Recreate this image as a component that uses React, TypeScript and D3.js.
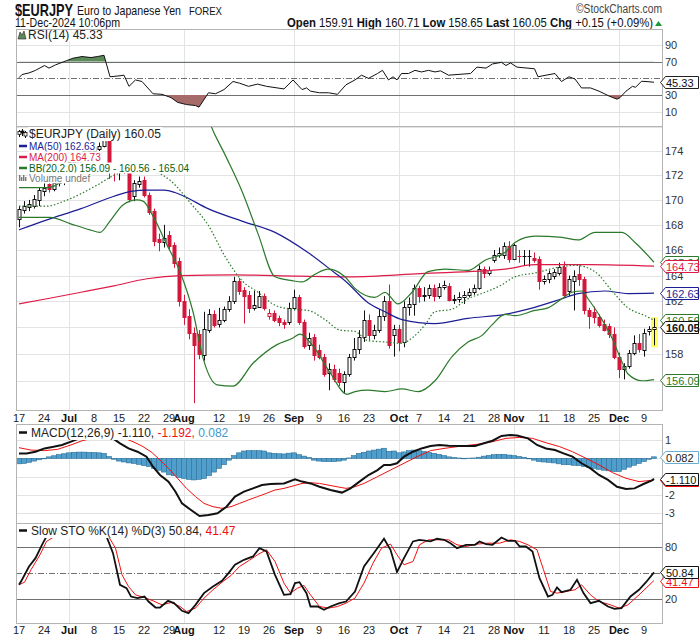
import React, { useEffect, useRef } from 'react';
import * as d3 from 'd3';

// ---- price bars, one per trading day, 17-Jun-2024 .. 11-Dec-2024 (index 0..127)
const opens = [168.5,169.2,169.4,169.5,170.0,170.7,171.3,170.9,171.4,171.6,
  172.0,173.1,172.8,173.6,174.0,174.0,174.2,174.4,174.9,172.6,
  172.3,172.6,172.3,170.3,171.3,171.6,170.4,169.1,166.9,166.6,
  167.2,166.4,165.1,162.0,160.9,159.6,159.5,157.9,159.8,161.0,
  160.3,160.6,161.4,162.0,163.6,162.9,162.5,161.5,161.6,162.4,
  160.9,161.1,160.7,160.45,160.4,161.5,162.3,160.4,158.7,159.3,
  158.3,157.8,156.6,156.9,156.6,155.9,156.5,157.8,158.4,159.3,
  160.6,159.4,159.8,160.9,162.0,159.4,159.9,158.9,161.6,161.8,
  163.0,162.4,162.5,163.0,162.4,163.1,163.2,162.1,162.2,162.35,
  162.5,162.75,163.0,164.5,164.2,165.2,165.6,165.6,166.3,165.3,
  165.5,165.5,165.5,165.4,165.3,163.6,163.7,164.0,164.2,164.7,
  162.8,163.6,164.1,163.7,161.3,161.2,160.8,160.3,160.1,159.5,
  157.8,156.9,157.1,158.1,158.8,158.3,159.7,159.91];
const highs = [169.5,169.9,170.0,170.4,171.0,171.4,171.5,171.6,171.9,172.4,
  173.4,173.5,173.9,174.3,174.4,174.5,174.7,175.1,175.4,173.0,
  172.8,172.9,172.6,171.6,171.9,171.9,170.6,169.3,167.3,168.0,
  167.5,166.6,165.4,162.5,161.4,160.0,159.8,161.2,161.4,161.3,
  161.5,161.6,162.4,163.9,163.8,163.1,162.8,162.8,162.8,162.6,
  161.4,161.3,160.9,160.6,161.9,162.9,162.5,160.6,159.6,159.5,
  158.7,158.0,157.3,157.2,156.9,156.7,158.0,159.2,159.8,161.3,
  161.0,160.2,161.4,162.4,163.3,160.2,160.2,162.0,162.3,163.3,
  163.2,163.1,163.3,163.3,163.4,163.6,163.4,162.5,162.7,162.8,
  163.0,163.3,164.8,164.7,164.7,166.0,166.2,166.6,166.7,166.5,
  166.0,166.0,166.0,165.8,165.5,164.0,164.4,164.5,165.0,165.1,
  164.0,164.4,164.8,163.9,161.5,161.6,161.0,160.6,160.3,160.0,
  158.1,157.3,158.3,159.4,159.5,159.9,160.1,160.71];
const lows = [167.8,168.9,169.1,169.3,169.5,170.3,170.6,170.7,171.1,171.2,
  171.9,172.5,172.7,173.4,173.6,173.7,174.0,174.3,171.7,171.5,
  171.6,172.1,169.8,169.9,171.0,170.2,168.8,166.3,165.9,166.2,
  166.0,164.6,161.6,160.2,159.1,154.35,157.6,157.5,159.6,160.0,
  160.0,160.4,161.2,161.8,162.5,160.3,161.1,161.3,161.5,161.3,
  160.6,160.4,160.1,159.9,160.2,161.3,160.2,158.4,158.3,157.5,
  157.6,156.3,155.3,155.9,155.6,155.05,156.3,157.5,158.0,158.9,
  159.0,159.1,159.6,160.5,158.4,157.8,158.2,158.5,160.9,160.9,
  161.9,162.0,162.2,162.0,162.2,162.9,162.0,161.8,161.9,161.8,
  162.3,162.5,162.9,163.8,164.0,165.0,165.4,165.3,165.0,165.2,
  165.0,164.8,164.7,165.0,162.9,163.3,163.4,163.7,164.0,162.3,
  162.4,161.3,163.2,161.0,159.9,160.3,160.0,159.7,159.2,157.6,
  156.2,156.1,156.9,157.9,158.1,157.8,159.4,158.65];
const closes = [169.3,169.5,169.7,170.1,170.8,171.0,170.9,171.4,171.6,172.0,
  173.1,172.8,173.6,174.0,174.1,174.3,174.4,174.9,172.6,172.3,
  172.6,172.3,170.1,171.4,171.5,170.4,169.0,166.7,166.6,166.95,
  166.3,165.0,162.0,160.8,159.6,158.7,158.0,159.9,161.0,160.2,
  160.6,161.4,162.0,163.6,162.8,162.4,161.5,161.7,162.4,161.5,
  161.1,160.6,160.4,160.3,161.5,162.3,160.4,158.6,159.2,157.9,
  157.8,156.5,156.9,156.1,155.9,156.5,157.8,158.4,159.3,160.6,
  159.4,159.8,160.9,162.0,158.7,159.9,158.9,161.6,161.8,163.0,
  162.4,162.5,163.0,162.4,163.1,163.3,162.1,162.2,162.35,162.5,
  162.75,163.0,164.5,164.2,164.4,165.6,165.8,166.3,165.3,166.4,
  165.5,165.5,165.5,165.2,163.6,163.7,164.2,164.3,164.7,162.5,
  163.7,164.0,163.7,161.3,160.9,160.8,160.2,159.8,159.5,157.8,
  156.9,157.1,158.1,158.8,158.4,159.6,159.9,160.05];

// ---- overlays: [bar index, value]
const ma200Pts: [number, number][] = [[0,161.8],[5.6,162.2],[12.4,162.7],[19,163.2],[25.6,163.75],[32.4,164.0],[42.8,164.05],[56.2,163.95],[66.2,163.9],[80.2,164.15],[97.2,164.5],[103.2,164.85],[114.2,164.85],[127,164.73]];
const ma50Pts: [number, number][] = [[0,167.6],[5.6,168.4],[12.4,169.3],[19,170.3],[22.4,170.7],[25.6,170.8],[29,170.8],[31.2,170.6],[33,170.3],[37.8,169.3],[44.6,168.3],[51.2,167.4],[57.8,165.8],[63.2,164.2],[65.2,163.6],[69.8,161.9],[73.2,161.2],[76.6,160.6],[83.2,160.3],[89.8,160.7],[97.2,161.0],[101.8,161.4],[108.6,162.2],[111.8,162.6],[117.2,162.8],[121.8,162.6],[127,162.63]];
const bbUpperPts: [number, number][] = [[0,171.0],[5.6,171.0],[9,171.7],[12.4,173.8],[15.6,175.4],[17,176.0],[19,176.2],[22,176.3],[26,176.0],[27,176.05],[30,177.2],[33,178.6],[35,179.2],[37,177.8],[38.2,176.3],[41.2,173.7],[44.6,170.7],[47.8,167.3],[51.2,163.9],[54.6,163.6],[56.6,163.5],[59.2,164.1],[61.8,164.5],[63.2,164.4],[65.2,163.9],[67.2,163.0],[71.2,162.3],[73.2,162.7],[75.8,161.8],[78.6,162.7],[81.8,164.3],[85.2,164.5],[89.8,164.4],[93.2,165.2],[97.2,165.8],[99.2,166.6],[103.2,167.1],[108.6,167.0],[111.8,166.8],[115.2,167.4],[120.6,167.4],[123.2,166.6],[127,165.04]];
const bbMidPts: [number, number][] = [[0,169.5],[5.6,169.5],[9,169.9],[15.6,171.2],[19,172.0],[24.2,172.5],[27.2,172.3],[30.2,171.6],[32.6,170.6],[34.2,169.8],[37.8,168.0],[41.2,165.5],[44.6,163.6],[47.8,162.7],[51.2,161.7],[54.6,161.4],[57.8,161.3],[61.2,160.6],[64.2,159.8],[67.2,159.7],[69.8,159.0],[73.2,158.9],[76.6,158.8],[78.6,159.2],[81.2,160.2],[83.2,161.2],[86.6,161.4],[89.8,162.2],[93.2,162.7],[96.2,163.2],[99.2,163.9],[103.2,164.2],[108.6,164.7],[111.2,164.8],[115.2,164.3],[118.6,162.8],[121.8,161.5],[125.2,160.9],[127,160.56]];
const bbLowerPts: [number, number][] = [[0,168.6],[6.2,168.6],[10.2,168.1],[14.2,167.6],[16.2,167.4],[18.2,168.3],[20.8,169.6],[23.6,170.0],[24.8,169.9],[26.8,168.7],[29.6,166.4],[32.2,164.3],[34.8,161.2],[36.8,157.7],[39.6,155.7],[42.8,155.6],[46.8,157.3],[51.6,158.7],[54.8,159.2],[56.2,159.5],[58.8,158.6],[62.2,156.6],[65.6,155.0],[67.2,155.2],[69.8,155.3],[73.2,155.2],[76.6,155.4],[79.8,155.2],[83.2,156.0],[86.6,157.8],[89.8,158.9],[92.6,159.4],[94.6,160.2],[97.2,161.0],[99.2,160.9],[103.2,161.3],[105.8,161.5],[108.6,162.2],[110.6,162.7],[112.6,162.8],[113.8,162.2],[116.6,160.6],[118.6,159.2],[120.6,157.4],[121.8,156.5],[124.6,156.0],[127,156.09]];

// ---- indicators: [bar index, value]
const rsiPts: [number, number][] = [[0,50.8],[0.6,54.6],[2,56.5],[3.3,59.6],[5.1,65.4],[6,62.3],[7.3,66.2],[9.5,71.2],[10.8,74.2],[12.6,76.2],[14.4,75],[15.7,76.2],[17,77.7],[18.2,51.9],[20.2,53.1],[21,53.8],[22,40.4],[23.3,48.1],[24.6,46.2],[26.8,31.5],[28.6,30.8],[30.4,26.9],[31.7,21.2],[33.5,18.5],[35.3,17.3],[36,15.4],[37.9,32.7],[39.3,31.5],[41,36.5],[42.8,46.2],[44.1,44.2],[45.9,40.4],[47.7,43.1],[49.5,40.4],[53,37.3],[54.8,48.1],[56.6,36.5],[57.5,38.5],[58.3,34.6],[60.1,32.7],[61.9,32.7],[63.7,30.8],[65.4,42.3],[67.2,48.1],[68.5,53.8],[69.9,50],[71.7,55.8],[72.7,59.6],[73.9,48.1],[74.8,51.9],[75.6,48.1],[76.5,55.8],[77.9,55.8],[79.2,59.6],[80.5,57.7],[81.9,59.6],[83.2,57.7],[84.3,59],[85.9,53.8],[87.6,54.6],[90.3,55.8],[91.6,63.5],[93.4,62.3],[94.7,67.3],[96.5,69.2],[97.4,65.4],[98.3,68.5],[99.6,63.5],[103.1,61.5],[103.8,51.9],[105.4,53.8],[107.2,55.8],[108.5,46.2],[110,51.9],[111.2,49.2],[112.5,38.5],[114.3,38.5],[116,34.6],[118,28.8],[119.6,25],[120.2,26.9],[121.4,34.6],[122.7,40.4],[123.3,39.2],[124.5,46.5],[125.8,46],[127,45.33]];
const macdPts: [number, number][] = [[0,0.27],[1.5,0.27],[3.3,0.36],[5.1,0.54],[6.9,0.63],[8.6,0.73],[10.4,0.91],[11.7,1.05],[13.5,1.25],[15.5,1.35],[17.3,1.36],[18.8,1.09],[20.2,0.82],[21.9,0.54],[23.7,0.36],[25.5,0.09],[26.8,-0.46],[28.2,-0.91],[29.9,-1.27],[31.3,-1.82],[32.6,-2.46],[34.4,-2.82],[36.1,-3.15],[37.9,-3.09],[39.7,-3.0],[41.5,-2.64],[43.2,-2.09],[45,-1.82],[46.8,-1.64],[48.6,-1.46],[50.3,-1.40],[53,-1.37],[55.2,-1.15],[56.6,-1.27],[58.3,-1.37],[60.1,-1.55],[62.3,-1.73],[64.6,-1.87],[66.3,-1.64],[68.1,-1.27],[69.9,-0.91],[71.7,-0.64],[73,-0.36],[74.3,-0.36],[75.6,-0.27],[77,0.09],[78.8,0.36],[80.5,0.54],[82.3,0.67],[84.1,0.73],[85.9,0.69],[88.5,0.67],[91.2,0.67],[93,0.82],[94.7,0.96],[96.5,1.22],[98.3,1.27],[99.6,1.24],[101.8,1.09],[103.6,0.73],[105.4,0.54],[107.2,0.45],[108.9,0.27],[110.7,0.09],[112.5,-0.27],[114.3,-0.55],[116,-0.91],[117.8,-1.18],[119.6,-1.55],[121.4,-1.67],[123.1,-1.64],[124.9,-1.40],[126.5,-1.22],[127,-1.11]];
const signalPts: [number, number][] = [[0,0.58],[2.4,0.45],[5.1,0.42],[7.7,0.49],[10.4,0.73],[12.6,0.96],[14.8,1.09],[17.5,1.18],[19.3,1.22],[21.1,1.09],[22.8,0.91],[24.6,0.67],[26.4,0.36],[28.2,-0.09],[29.9,-0.55],[31.7,-1.09],[33.5,-1.64],[35.3,-2.09],[37,-2.46],[38.8,-2.64],[40.6,-2.73],[42.4,-2.64],[44.1,-2.46],[45.9,-2.27],[47.7,-2.09],[49.5,-1.91],[51.2,-1.73],[53,-1.64],[54.8,-1.51],[56.6,-1.37],[58.3,-1.33],[60.1,-1.37],[62.8,-1.51],[65.4,-1.64],[67.2,-1.55],[69,-1.37],[71.7,-1.0],[74.3,-0.64],[77,-0.27],[79.6,0.09],[82.3,0.42],[85,0.54],[88.5,0.67],[92.1,0.78],[94.7,0.91],[97.4,1.09],[100.1,1.14],[102.7,1.09],[105.4,0.85],[108.1,0.64],[110.7,0.36],[113.4,0.0],[116,-0.36],[118.7,-0.78],[121.4,-1.09],[124,-1.27],[126.5,-1.2],[127,-1.192]];
const macdHist = [-0.30,-0.28,-0.22,-0.15,-0.08,0.0,0.08,0.14,0.2,0.25,0.3,0.33,
  0.34,0.34,0.33,0.32,0.3,0.27,0.1,-0.05,-0.15,-0.2,-0.25,-0.28,-0.33,-0.4,-0.45,-0.55,
  -0.65,-0.75,-0.9,-0.95,-1.05,-1.1,-1.15,-1.18,-1.15,-1.1,-0.95,-0.75,-0.55,-0.35,-0.1,0.15,
  0.3,0.4,0.42,0.42,0.42,0.4,0.3,0.27,0.25,0.24,0.28,0.3,0.2,0.12,
  0.05,-0.1,-0.15,-0.18,-0.18,-0.18,-0.15,-0.1,0.02,0.15,0.27,0.33,0.4,0.45,0.5,0.55,0.38,0.4,0.3,
  0.35,0.42,0.45,0.42,0.38,0.32,0.27,0.22,0.15,0.08,0.05,0.02,0.0,0.01,0.02,0.06,0.12,0.16,0.2,
  0.22,0.22,0.18,0.15,0.1,0.06,0.0,-0.1,-0.18,-0.2,-0.22,-0.25,-0.3,-0.35,-0.35,-0.38,-0.4,
  -0.45,-0.5,-0.55,-0.6,-0.65,-0.68,-0.72,-0.72,-0.6,-0.48,-0.38,-0.28,-0.18,-0.05,0.082];
const stoKPts: [number, number][] = [[0,36.5],[0.6,42.3],[2,57.7],[3.3,67.4],[4.6,82.9],[5.5,92.6],[6.9,92.6],[8.2,92.6],[10,97],[13,98],[16,97],[17.5,92.6],[18.8,73.2],[20.2,36.5],[21.5,32.6],[22.4,22.9],[23.7,21],[25.1,22.9],[25.9,17.1],[27.3,10.1],[28.2,10.1],[29.8,17.9],[31,15.2],[32.6,6.3],[33.9,3.6],[35.3,13.2],[37,26.8],[38.8,34.5],[40.6,41.1],[41.9,50],[43.2,59.7],[45,65.5],[46.8,69.4],[48.1,79],[49.5,75.2],[51.2,48.1],[53,24.8],[54.3,25.6],[55.2,38.4],[56.1,39.5],[57.5,26.8],[58.3,11.3],[59.7,11.3],[61,7.4],[62.3,11.3],[64.1,15.2],[65.4,17.1],[67.2,28.7],[69,57.7],[71.2,75.2],[73,89.9],[74.3,77.1],[75.6,51.2],[77,67.4],[78.8,86.8],[80.1,88.7],[82.3,86.8],[83.6,89.9],[85,88.7],[86.3,84.8],[87.6,79],[89.4,82.9],[91.2,82.9],[92.1,86.8],[93.4,83.7],[94.7,82.9],[96.5,91.4],[97.8,87.5],[99.2,87.5],[100.1,81],[101.4,81],[102.7,75.2],[104.1,44.2],[105.8,22.9],[106.7,24.8],[107.6,33.4],[108.5,27.9],[110.3,30.7],[111.6,42.3],[112.9,26.8],[114.3,15.2],[116,17.9],[117.8,11.3],[119.1,8.6],[120.5,9.4],[122.3,22.9],[124,30.7],[125.4,39.5],[127,50.84]];
const stoDPts: [number, number][] = [[0,36.5],[1.1,39.5],[2.4,53.9],[4.2,71.3],[5.5,86.8],[6.9,91.8],[8.2,92.5],[11,97],[14,98],[17.9,92.6],[19.3,79],[20.6,48.1],[21.9,34.5],[23.3,24.8],[25.1,21.7],[26.8,17.9],[28.6,13.2],[30.4,15.9],[32.2,11.3],[33.5,5.5],[35.3,9.4],[37,21],[38.8,30.7],[40.6,39.5],[42.4,47.3],[44.1,57.7],[45.9,64.3],[47.7,71.3],[49.5,77.1],[51.2,63.5],[53,38.4],[54.3,26.8],[55.7,32.6],[57,35.7],[58.3,24.8],[60.1,11.3],[61.9,9.4],[63.7,11.3],[65.4,15.2],[67.2,21],[69,38.4],[70.8,61.6],[72.5,79],[74.3,83.7],[75.6,71.3],[77,59.7],[78.8,63.5],[80.1,82.9],[81.9,88.7],[84.1,88.7],[85.9,88.7],[87.6,82.9],[89.4,81],[91.6,83.7],[93.8,84.8],[96.1,84.8],[98.3,88.7],[100.1,86.8],[101.8,82.9],[103.6,77.1],[104.9,53.9],[106.3,28.7],[107.6,26.8],[109.4,28.7],[111.2,30.7],[112.5,36.5],[114.3,24.8],[116,17.1],[118.3,13.2],[120,9.4],[121.8,13.2],[124,24.8],[127,41.47]];

// ---- axis ticks (labels covered by value tags in the original are left out)
const weekTickIdx = [0,5,15,20,25,30,40,45,50,60,65,70,80,85,90,95,105,110,115,125];
const weekTickText = ['17','24','8','15','22','29','12','19','26','9','16','23','7','14','21','28','11','18','25','9'];
const monthTickIdx = [10,33,55,76,99,120];
const monthTickText = ['Jul','Aug','Sep','Oct','Nov','Dec'];
const priceTicks = [158,162,164,166,168,170,172,174];
const priceGrid = [156,158,160,162,164,166,168,170,172,174,176];
const rsiTicks = [10,30,70,90];
const rsiGrid = [10,90];
const macdTicks = [1,-2,-3];
const macdGrid = [1,0,-1,-2,-3];
const stoTicks = [20,80];

const FONT = 'Liberation Sans, Arial, sans-serif';
const GREEN = '#2b7a2b';
const NAVY = '#1d1d96';
const CRIMSON = '#dc1c48';
const CRED = '#d3173c';
const L = 16, R = 662;

const App: React.FC = () => {
  const svgRef = useRef<SVGSVGElement>(null);

  useEffect(() => {
    if (!svgRef.current) return;
    const svg = d3.select(svgRef.current);
    svg.selectAll('*').remove();
    const defs = svg.append('defs');
    svg.append('rect').attr('width', 700).attr('height', 639).attr('fill', '#fff');

    const x = d3.scaleLinear().domain([0, 127]).range([19, 654]);
    const yP = d3.scaleLog().domain([174, 154]).range([151, 407.9]);
    const yR = d3.scaleLinear().domain([70, 30]).range([61.7, 95]);
    const yM = d3.scaleLinear().domain([1, -3]).range([440, 513.3]);
    const yS = d3.scaleLinear().domain([80, 20]).range([547.3, 599]);
    const px = (v: number) => Math.round(v) + 0.5;

    const panel = (top: number, bottom: number, id: string) => {
      defs.append('clipPath').attr('id', id).append('rect')
        .attr('x', L).attr('y', top).attr('width', R - L).attr('height', bottom - top);
      const g = svg.append('g');
      monthTickIdx.forEach(i => {
        g.append('line').attr('x1', px(x(i))).attr('x2', px(x(i))).attr('y1', top).attr('y2', bottom)
          .attr('stroke', '#e3e3e3');
      });
      return g;
    };
    const hline = (g: any, y: number, stroke: string, dash?: string) => {
      const l = g.append('line').attr('x1', L).attr('x2', R).attr('y1', px(y)).attr('y2', px(y)).attr('stroke', stroke);
      if (dash) l.attr('stroke-dasharray', dash);
    };
    const border = (top: number, bottom: number) => {
      svg.append('rect').attr('x', L + 0.5).attr('y', top + 0.5).attr('width', R - L).attr('height', bottom - top)
        .attr('fill', 'none').attr('stroke', '#b4b4b4');
    };
    const axisText = (y: number, t: string) => {
      svg.append('text').attr('x', 665).attr('y', y + 4).text(t)
        .attr('font-family', FONT).attr('font-size', 11).attr('fill', '#333');
    };
    const tag = (y: number, t: string, stroke: string, color: string, bold = false) => {
      const yy = px(y);
      svg.append('path')
        .attr('d', `M660.5,${yy} L665.5,${yy - 6} L698.5,${yy - 6} L698.5,${yy + 6} L665.5,${yy + 6} Z`)
        .attr('fill', '#fff').attr('stroke', stroke);
      svg.append('text').attr('x', 666).attr('y', yy + 4).text(t)
        .attr('font-family', FONT).attr('font-size', 11).attr('fill', color)
        .attr('font-weight', bold ? 'bold' : 'normal');
    };
    const legend = (g: any, xx: number, y: number, size: number, parts: [string, string][]) => {
      const t = g.append('text').attr('x', xx).attr('y', y).attr('font-family', FONT).attr('font-size', size);
      parts.forEach(([s, c]) => t.append('tspan').text(s).attr('fill', c));
      const bb = (t.node() as SVGTextElement).getBBox();
      g.insert('rect', () => t.node()).attr('x', bb.x - 1).attr('y', bb.y).attr('width', bb.width + 2)
        .attr('height', bb.height).attr('fill', '#fff');
    };
    const xLabels = (y: number) => {
      weekTickIdx.forEach((i, k) => {
        svg.append('text').attr('x', x(i)).attr('y', y).attr('text-anchor', 'middle').text(weekTickText[k])
          .attr('font-family', FONT).attr('font-size', 11).attr('fill', '#222');
      });
      monthTickIdx.forEach((i, k) => {
        svg.append('text').attr('x', x(i)).attr('y', y).attr('text-anchor', 'middle').text(monthTickText[k])
          .attr('font-family', FONT).attr('font-size', 11).attr('font-weight', 'bold').attr('fill', '#111');
      });
    };
    // condensed header text: squeeze to the width it has in the original
    const narrow = (xx: number, y: number, w: number, size: number, anchor = 'start') =>
      svg.append('text').attr('x', xx).attr('y', y).attr('text-anchor', anchor)
        .attr('font-family', FONT).attr('font-size', size)
        .attr('textLength', w).attr('lengthAdjust', 'spacingAndGlyphs');
    const smooth = (ys: any) => d3.line<[number, number]>().x(d => x(d[0])).y(d => ys(d[1])).curve(d3.curveMonotoneX);
    const straight = (ys: any) => d3.line<[number, number]>().x(d => x(d[0])).y(d => ys(d[1]));

    // ---------- header
    narrow(15, 16, 58, 17).text('$EURJPY').attr('font-weight', 'bold').attr('fill', '#111');
    narrow(77, 15, 104, 13).text('Euro to Japanese Yen').attr('fill', '#111');
    narrow(189, 15, 33, 11).text('FOREX').attr('fill', '#111');
    narrow(662, 13, 86, 12, 'end').text('©StockCharts.com').attr('fill', '#444');
    narrow(15, 27, 105, 12.5).text('11-Dec-2024 10:06pm').attr('fill', '#111');
    const info = narrow(653, 27, 366, 12.5, 'end').attr('fill', '#111');
    ([['Open', '159.91'], ['High', '160.71'], ['Low', '158.65'], ['Last', '160.05'], ['Chg', '+0.15 (+0.09%)']] as [string, string][])
      .forEach(([k, v], n) => {
        info.append('tspan').text((n ? ' ' : '') + k + ' ').attr('font-weight', 'bold');
        info.append('tspan').text(v);
      });
    svg.append('path').attr('d', 'M655,26 L658.5,21 L662,26 Z').attr('fill', '#1e9a2e');

    // ---------- RSI panel
    const rTop = 29, rBot = 126;
    const gR = panel(rTop, rBot, 'clipR');
    rsiGrid.forEach(v => hline(gR, yR(v), '#e3e3e3'));
    hline(gR, yR(70), '#707070');
    hline(gR, yR(30), '#707070');
    hline(gR, yR(50), '#707070', '6,2,1,2');
    defs.append('clipPath').attr('id', 'clipR70').append('rect').attr('x', L).attr('y', rTop).attr('width', R - L).attr('height', yR(70) - rTop);
    defs.append('clipPath').attr('id', 'clipR30').append('rect').attr('x', L).attr('y', yR(30)).attr('width', R - L).attr('height', rBot - yR(30));
    gR.append('path').datum(rsiPts).attr('clip-path', 'url(#clipR70)').attr('fill', '#5d8a5a')
      .attr('d', d3.area<[number, number]>().x(d => x(d[0])).y0(yR(70)).y1(d => yR(d[1])));
    gR.append('path').datum(rsiPts).attr('clip-path', 'url(#clipR30)').attr('fill', '#a66a69')
      .attr('d', d3.area<[number, number]>().x(d => x(d[0])).y0(yR(30)).y1(d => yR(d[1])));
    gR.append('path').datum(rsiPts).attr('clip-path', 'url(#clipR)').attr('fill', 'none')
      .attr('stroke', '#111').attr('stroke-width', 1).attr('d', straight(yR));
    gR.append('path').attr('d', 'M18,39 L20,32 L22,35 L24,31 L26,39 Z').attr('fill', '#5d8a5a').attr('stroke', '#222').attr('stroke-width', 0.6);
    legend(gR, 28, 38.5, 12, [['RSI(14) 45.33', '#222']]);
    border(rTop, rBot);
    rsiTicks.forEach(v => axisText(yR(v), String(v)));
    tag(yR(45.33), '45.33', '#222', '#111');

    // ---------- price panel
    const pTop = 126, pBot = 410;
    const gP = panel(pTop, pBot, 'clipP');
    priceGrid.forEach(v => hline(gP, yP(v), '#e3e3e3'));
    const gPc = gP.append('g').attr('clip-path', 'url(#clipP)');
    // highlight last bar
    gPc.append('rect').attr('x', x(127) - 3).attr('y', yP(highs[127]) - 1).attr('width', 7)
      .attr('height', yP(lows[127]) - yP(highs[127]) + 3).attr('fill', '#ffff5e');
    closes.forEach((c, i) => {
      const o = opens[i];
      const prev = i > 0 ? closes[i - 1] : o;
      const col = c >= prev ? '#111' : CRED;
      const hollow = c > o;
      const cx = Math.round(x(i));
      gPc.append('line').attr('x1', cx + 0.5).attr('x2', cx + 0.5).attr('y1', yP(highs[i])).attr('y2', yP(lows[i]))
        .attr('stroke', col).attr('stroke-width', 1);
      const top = Math.round(yP(Math.max(o, c)));
      const bot = Math.round(yP(Math.min(o, c)));
      if (bot - top < 1) {
        gPc.append('line').attr('x1', cx - 1.5).attr('x2', cx + 2.5).attr('y1', top + 0.5).attr('y2', top + 0.5)
          .attr('stroke', col);
      } else {
        gPc.append('rect').attr('x', cx - 1).attr('y', top + 0.5).attr('width', 3).attr('height', bot - top)
          .attr('fill', hollow ? '#fff' : col).attr('stroke', col).attr('stroke-width', 1);
      }
    });
    gPc.append('path').datum(ma200Pts).attr('fill', 'none').attr('stroke', CRIMSON).attr('stroke-width', 1.2).attr('d', smooth(yP));
    gPc.append('path').datum(ma50Pts).attr('fill', 'none').attr('stroke', NAVY).attr('stroke-width', 1.2).attr('d', smooth(yP));
    gPc.append('path').datum(bbUpperPts).attr('fill', 'none').attr('stroke', GREEN).attr('stroke-width', 1.2).attr('d', smooth(yP));
    gPc.append('path').datum(bbLowerPts).attr('fill', 'none').attr('stroke', GREEN).attr('stroke-width', 1.2).attr('d', smooth(yP));
    gPc.append('path').datum(bbMidPts).attr('fill', 'none').attr('stroke', GREEN).attr('stroke-width', 1.2)
      .attr('stroke-dasharray', '1.5,2').attr('d', smooth(yP));
    // legend
    const gL = gP.append('g');
    legend(gL, 29, 138, 12, [['$EURJPY (Daily) 160.05', '#222']]);
    legend(gL, 29, 149.5, 10, [['MA(50) 162.63', NAVY]]);
    legend(gL, 29, 160.5, 10, [['MA(200) 164.73', CRIMSON]]);
    legend(gL, 29, 171.5, 10, [['BB(20,2.0) 156.09 - 160.56 - 165.04', '#0b610b']]);
    legend(gL, 29, 181.5, 10, [['Volume undef', '#777']]);
    [[19.5, 130, 137, 131.5, 134.5, '#fff'], [22.5, 129, 136, 131, 133, '#111'], [25.5, 131, 138, 132.5, 136, '#fff']]
      .forEach(([cx, hi, lo, bt, bb, f]: any) => {
        gL.append('line').attr('x1', cx).attr('x2', cx).attr('y1', hi).attr('y2', lo).attr('stroke', '#111');
        gL.append('rect').attr('x', cx - 1.5).attr('y', bt).attr('width', 3).attr('height', bb - bt).attr('fill', f).attr('stroke', '#111').attr('stroke-width', 0.8);
      });
    [[NAVY, 146], [CRIMSON, 157], [GREEN, 168]].forEach(([c, y]: any) => {
      gL.append('line').attr('x1', 19).attr('x2', 27).attr('y1', y).attr('y2', y).attr('stroke', c).attr('stroke-width', 2.5);
    });
    [19, 21, 23, 25].forEach((bx, k) => {
      gL.append('rect').attr('x', bx).attr('y', 175 + (k % 2) * 2).attr('width', 1.4).attr('height', 6 - (k % 2) * 2).attr('fill', '#777');
    });
    border(pTop, pBot);
    priceTicks.forEach(v => axisText(yP(v), String(v)));
    tag(yP(165.04), '165.04', GREEN, GREEN);
    tag(yP(164.73), '164.73', CRIMSON, CRIMSON);
    tag(yP(162.63), '162.63', NAVY, NAVY);
    tag(yP(160.56), '160.56', GREEN, GREEN);
    tag(yP(160.05), '160.05', '#111', '#111', true);
    tag(yP(156.09), '156.09', GREEN, GREEN);
    xLabels(422);

    // ---------- MACD panel
    const mTop = 424, mBot = 523;
    const gM = panel(mTop, mBot, 'clipM');
    macdGrid.forEach(v => hline(gM, yM(v), '#e3e3e3'));
    const gMc = gM.append('g').attr('clip-path', 'url(#clipM)');
    macdHist.forEach((h, i) => {
      const y0 = yM(0), y1 = yM(h);
      gMc.append('rect').attr('x', x(i) - 2.5).attr('width', 5)
        .attr('y', Math.min(y0, y1)).attr('height', Math.max(0.5, Math.abs(y1 - y0)))
        .attr('fill', '#4f9ecb').attr('stroke', '#2c6f98').attr('stroke-width', 0.6);
    });
    gMc.append('path').datum(signalPts).attr('fill', 'none').attr('stroke', '#f01010').attr('stroke-width', 1).attr('d', straight(yM));
    gMc.append('path').datum(macdPts).attr('fill', 'none').attr('stroke', '#111').attr('stroke-width', 2).attr('d', straight(yM));
    gM.append('line').attr('x1', 19).attr('x2', 27).attr('y1', 432.5).attr('y2', 432.5).attr('stroke', '#111').attr('stroke-width', 2.5);
    legend(gM, 31, 437, 12, [['MACD(12,26,9) -1.110, ', '#222'], ['-1.192, ', '#f01010'], ['0.082', '#3d97cc']]);
    border(mTop, mBot);
    macdTicks.forEach(v => axisText(yM(v), String(v)));
    tag(yM(0.082), '0.082', '#6aaed6', '#222');
    tag(yM(-1.192), '-1.192', '#f01010', '#f01010');
    tag(yM(-1.11), '-1.110', '#111', '#111');

    // ---------- Slow stochastic panel
    const sTop = 523, sBot = 623;
    const gS = panel(sTop, sBot, 'clipS');
    hline(gS, yS(80), '#707070');
    hline(gS, yS(20), '#707070');
    hline(gS, yS(50), '#707070', '6,2,1,2');
    const gSc = gS.append('g').attr('clip-path', 'url(#clipS)');
    gSc.append('path').datum(stoDPts).attr('fill', 'none').attr('stroke', '#f01010').attr('stroke-width', 1).attr('d', straight(yS));
    gSc.append('path').datum(stoKPts).attr('fill', 'none').attr('stroke', '#111').attr('stroke-width', 1.8).attr('d', straight(yS));
    gS.append('line').attr('x1', 19).attr('x2', 27).attr('y1', 530.5).attr('y2', 530.5).attr('stroke', '#111').attr('stroke-width', 2.5);
    legend(gS, 31, 535, 12, [['Slow STO %K(14) %D(3) 50.84, ', '#222'], ['41.47', '#f01010']]);
    border(sTop, sBot);
    stoTicks.forEach(v => axisText(yS(v), String(v)));
    tag(yS(41.47), '41.47', '#f01010', '#f01010');
    tag(yS(50.84), '50.84', '#111', '#111');
    xLabels(634);
  }, []);

  return (
    <svg ref={svgRef} width={700} height={639}
      style={{ position: 'absolute', left: 0, top: 0, background: '#fff' }} />
  );
};

export default App;
